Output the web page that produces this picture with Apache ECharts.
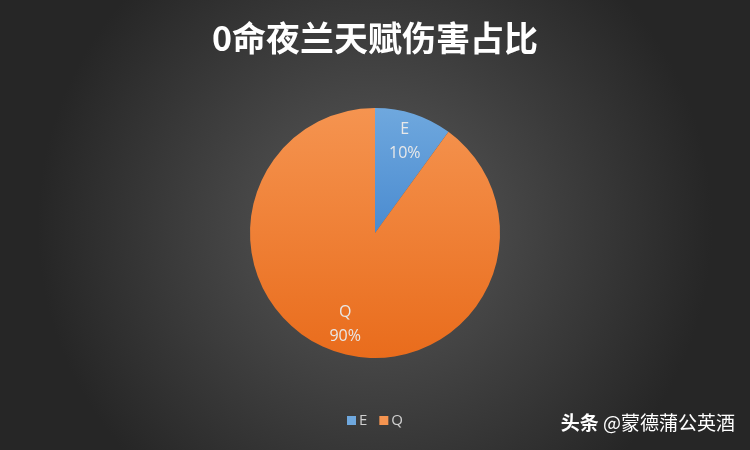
<!DOCTYPE html>
<html lang="zh-CN">
<head>
    <meta charset="UTF-8">
    <title>0命夜兰天赋伤害占比</title>
    <script src="https://cdn.jsdelivr.net/npm/echarts@6/dist/echarts.min.js"></script>
    <style>
        html, body { margin: 0; padding: 0; }
        #main { width: 750px; height: 450px; }
    </style>
</head>
<body>
    <div id="main"></div>
    <script type="text/javascript">
        var names = ['E', 'Q'];
        var values = [10, 90];
        var colorsTop = ['#6fa8de', '#f59450'];
        var colorsBottom = ['#4a8bd0', '#e96c1c'];

        function grad(i) {
            return new echarts.graphic.LinearGradient(0, 0, 0, 1, [
                { offset: 0, color: colorsTop[i] },
                { offset: 1, color: colorsBottom[i] }
            ]);
        }

        var pieData = [];
        var labelData = [];
        for (var i = 0; i < names.length; i++) {
            pieData.push({ name: names[i], value: values[i], itemStyle: { color: grad(i) } });
            labelData.push({ name: names[i], value: values[i], itemStyle: { color: 'transparent' } });
        }

        var myChart = echarts.init(document.getElementById('main'));
        var option = {
            backgroundColor: new echarts.graphic.RadialGradient(0.5, 0.5, 0.75, [
                { offset: 0, color: '#5a5a5a' },
                { offset: 1, color: '#262626' }
            ]),
            title: {
                text: '0命夜兰天赋伤害占比',
                left: 'center',
                top: 16,
                textStyle: {
                    color: '#ffffff',
                    fontSize: 34,
                    fontWeight: 'bold',
                    fontFamily: 'Noto Sans CJK SC'
                }
            },
            legend: {
                bottom: 17,
                left: 'center',
                itemWidth: 9,
                itemHeight: 9,
                itemGap: 12,
                icon: 'rect',
                data: names.map(function (n, i) { return { name: n, itemStyle: { color: colorsTop[i] } }; }),
                textStyle: { color: '#d0d0d0', fontSize: 15, fontFamily: 'Open Sans', padding: [0, 0, 0, -2] }
            },
            graphic: [{
                type: 'text',
                right: 15,
                top: 413,
                style: {
                    text: '{b|头条} {n|@蒙德蒲公英酒}',
                    rich: {
                        b: { fill: '#ffffff', fontSize: 19, fontWeight: 'bold', fontFamily: 'Noto Sans CJK SC' },
                        n: { fill: '#ffffff', fontSize: 19, fontWeight: 'normal', fontFamily: 'Noto Sans CJK SC' }
                    },
                    fill: '#ffffff',
                    font: '19px "Noto Sans CJK SC"',
                    shadowColor: 'rgba(0,0,0,0.8)',
                    shadowBlur: 3
                }
            }],
            series: [
                {
                    type: 'pie',
                    center: [375, 233],
                    radius: [0, 125],
                    startAngle: 90,
                    clockwise: true,
                    silent: true,
                    label: { show: false },
                    labelLine: { show: false },
                    data: pieData
                },
                {
                    type: 'pie',
                    center: [375, 233],
                    radius: [62, 125],
                    startAngle: 90,
                    clockwise: true,
                    silent: true,
                    label: {
                        show: true,
                        position: 'inside',
                        formatter: '{b}\n{d}%',
                        color: '#e8e8e8',
                        fontSize: 16,
                        lineHeight: 24,
                        fontFamily: 'Open Sans'
                    },
                    labelLine: { show: false },
                    data: labelData
                }
            ]
        };
        myChart.setOption(option);
    </script>
</body>
</html>
